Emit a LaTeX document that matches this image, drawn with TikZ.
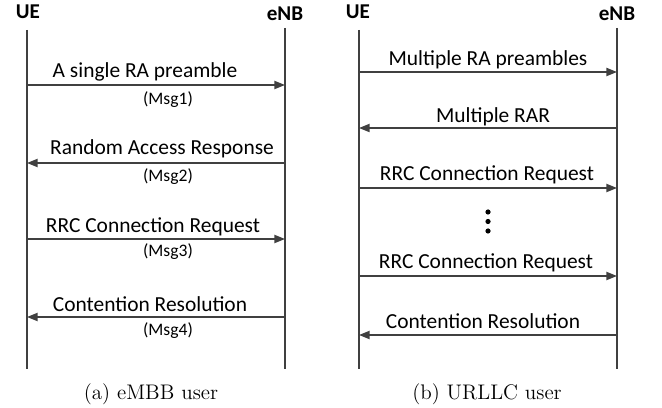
\documentclass[tikz,border=0pt]{standalone}
\usepackage{fontspec}
\setmainfont{Latin Modern Roman}
\newfontfamily\calib{Carlito}
\usetikzlibrary{arrows.meta}
\definecolor{lc}{HTML}{404040}
\tikzset{
  life/.style={draw=lc, line width=1.5pt},
  msg/.style={draw=lc, line width=0.9pt, -{Triangle[length=6pt,width=4.6pt]}},
  ent/.style={font=\calib\bfseries\fontsize{12}{14}\selectfont, inner sep=0pt},
  lab/.style={font=\calib\fontsize{12.2}{14}\selectfont, inner sep=0pt},
  sub/.style={font=\calib\fontsize{10}{12}\selectfont, inner sep=0pt},
  captext/.style={font=\fontsize{12}{14}\selectfont, inner sep=0pt}
}
\begin{document}
\begin{tikzpicture}[x=0.02cm,y=-0.02cm]
\useasboundingbox (0,0) rectangle (662,408);
% ---------- panel (a)
\node[ent] (ue1) at (28,12) {UE};
\node[ent] (enb1) at (285,14) {eNB};
\coordinate (l1t) at (27,30); \coordinate (l1b) at (27,369);
\coordinate (r1t) at (285,28); \coordinate (r1b) at (285,369);
\draw[life] (l1t) -- (l1b);
\draw[life] (r1t) -- (r1b);
\coordinate (a1l) at (27,85);  \coordinate (a1r) at (285,85);
\coordinate (a2l) at (27,163); \coordinate (a2r) at (285,163);
\coordinate (a3l) at (27,239); \coordinate (a3r) at (285,239);
\coordinate (a4l) at (27,317); \coordinate (a4r) at (285,317);
\draw[msg] (a1l) -- (a1r);
\draw[msg] (a2r) -- (a2l);
\draw[msg] (a3l) -- (a3r);
\draw[msg] (a4r) -- (a4l);
\node[lab] (t1) at (145,72) {A single RA preamble};
\node[sub] (m1) at (168,100) {(Msg1)};
\node[lab] (t2) at (162,149) {Random Access Response};
\node[sub] (m2) at (168,177) {(Msg2)};
\node[lab] (t3) at (153,227) {RRC Connection Request};
\node[sub] (m3) at (168,252) {(Msg3)};
\node[lab] (t4) at (150,304) {Contention Resolution};
\node[sub] (m4) at (168,331) {(Msg4)};
\node[captext] (ca) at (151,394) {(a) eMBB user};
% ---------- panel (b)
\node[ent] (ue2) at (358,12) {UE};
\node[ent] (enb2) at (617,14) {eNB};
\coordinate (l2t) at (359,30); \coordinate (l2b) at (359,369);
\coordinate (r2t) at (617,28); \coordinate (r2b) at (617,369);
\draw[life] (l2t) -- (l2b);
\draw[life] (r2t) -- (r2b);
\coordinate (b1l) at (359,72);  \coordinate (b1r) at (617,72);
\coordinate (b2l) at (359,128); \coordinate (b2r) at (617,128);
\coordinate (b3l) at (359,188); \coordinate (b3r) at (617,188);
\coordinate (b4l) at (359,276); \coordinate (b4r) at (617,276);
\coordinate (b5l) at (359,335); \coordinate (b5r) at (617,335);
\draw[msg] (b1l) -- (b1r);
\draw[msg] (b2r) -- (b2l);
\draw[msg] (b3l) -- (b3r);
\draw[msg] (b4l) -- (b4r);
\draw[msg] (b5r) -- (b5l);
\node[lab] (u1) at (488,60) {Multiple RA preambles};
\node[lab] (u2) at (493,117) {Multiple RAR};
\node[lab] (u3) at (487,175) {RRC Connection Request};
\node[lab] (u4) at (486,263) {RRC Connection Request};
\node[lab] (u5) at (483,321) {Contention Resolution};
\foreach \yy in {212,221.5,231} \fill (488,\yy) circle (2.6);
\node[captext] (cb) at (487,394) {(b) URLLC user};
\end{tikzpicture}
\end{document}
